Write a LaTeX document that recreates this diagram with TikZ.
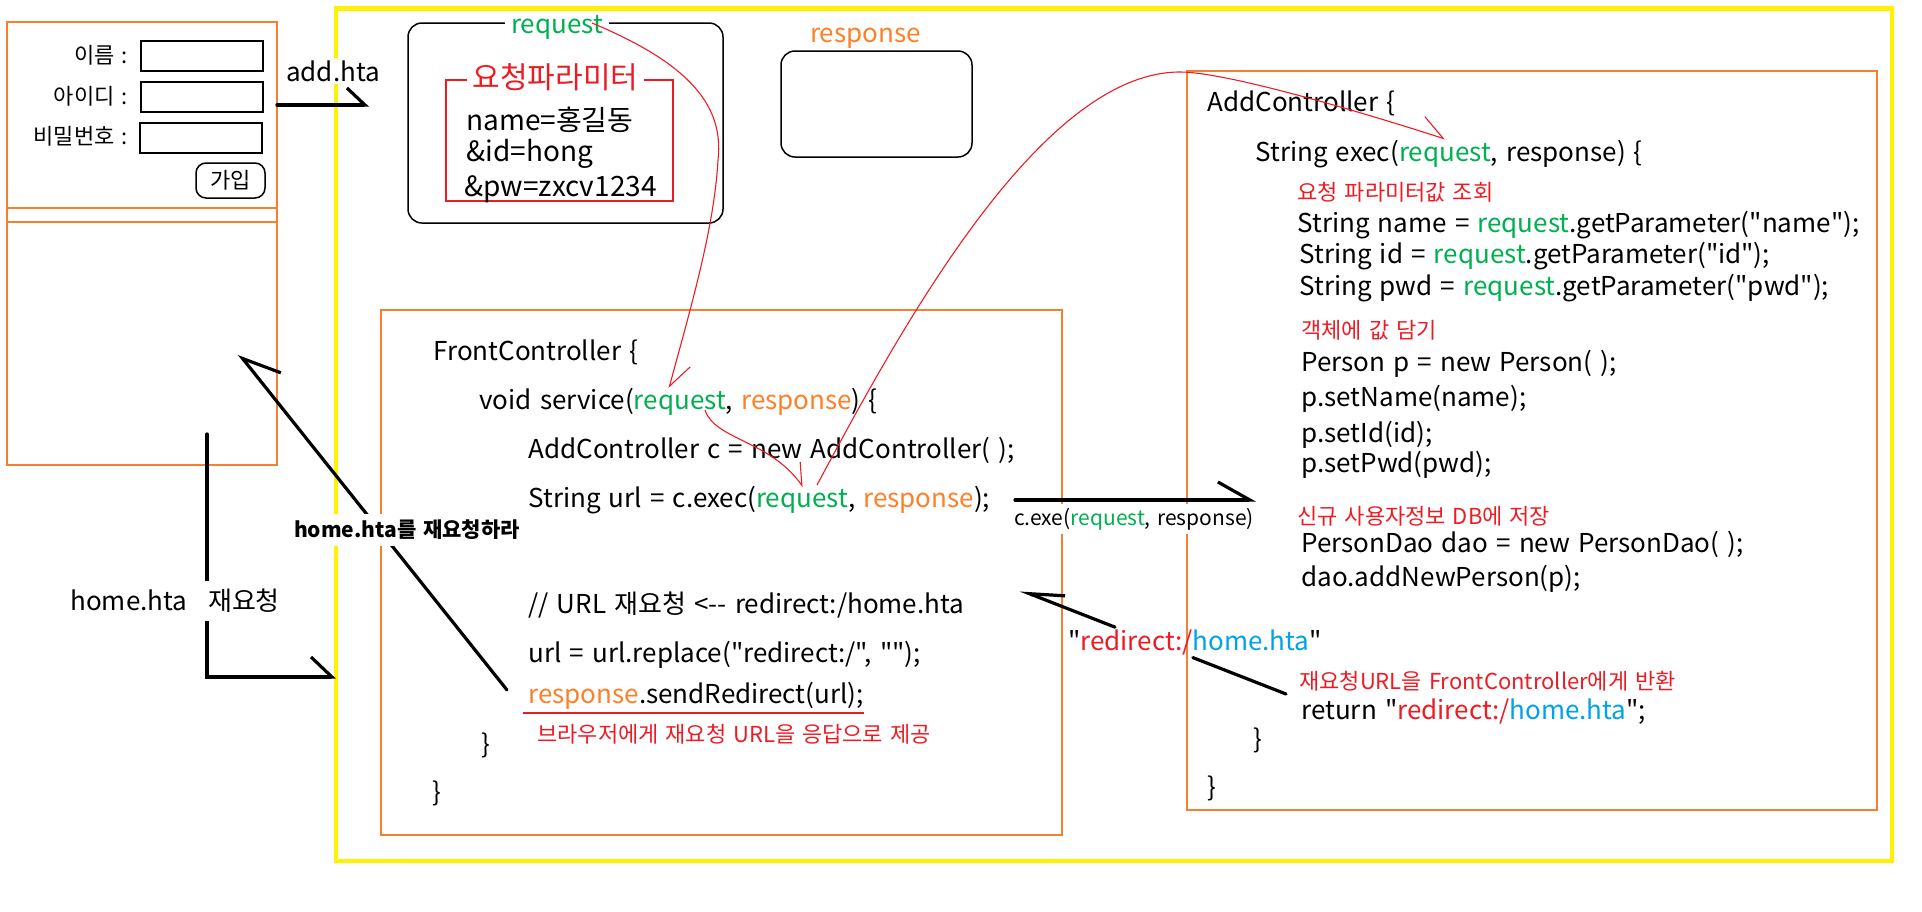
\documentclass[tikz,border=0pt]{standalone}
\usepackage{fontspec}
\newfontfamily\krfont{Noto Sans CJK KR}[WordSpace=1.4]
\usetikzlibrary{arrows.meta, positioning, calc}

\definecolor{boxorange}{RGB}{247,128,48}
\definecolor{txtorange}{RGB}{255,127,39}
\definecolor{reqgreen}{RGB}{0,176,80}
\definecolor{memored}{RGB}{237,28,36}
\definecolor{urlblue}{RGB}{0,162,232}
\definecolor{frameyellow}{RGB}{255,242,0}

\newcommand{\codefont}{\krfont\fontsize{13}{16}\selectfont}
\newcommand{\parfont}{\krfont\fontsize{14}{17}\selectfont}
\newcommand{\memofont}{\krfont\fontsize{11}{13}\selectfont}
\newcommand{\tinyfont}{\krfont\fontsize{10.5}{13}\selectfont}
\newcommand{\reqword}{\textcolor{reqgreen}{request}}
\newcommand{\respword}{\textcolor{txtorange}{response}}
\newcommand{\redir}{\textcolor{memored}{redirect:/}\textcolor{urlblue}{home.hta}}

\tikzset{
  codeline/.style={anchor=west, inner sep=0pt, font=\codefont, text height=0.75em, text depth=0.2em, yshift=-2pt},
  parline/.style={codeline, font=\parfont},
  memo/.style={anchor=west, inner sep=0pt, font=\memofont, text=memored},
  flabel/.style={anchor=east, inner sep=0pt, font=\memofont},
  obox/.style={draw=boxorange, line width=0.75pt},
  blackbox/.style={draw=black, line width=0.75pt},
  harp/.style={line width=1.6pt, line cap=round},
  redline/.style={draw=memored, line width=0.55pt},
  cover/.style={fill=white, inner xsep=3pt, inner ysep=1pt},
}

\begin{document}
\begin{tikzpicture}[x=0.5pt, y=-0.5pt]
\useasboundingbox (0,0) rectangle (1922,911);

% yellow frame
\draw[frameyellow, line width=2.4pt] (336,8.5) rectangle (1892,861);

% join form
\draw[obox] (7,22) rectangle (277,465);
\draw[obox] (7,208) -- (277,208) (7,222) -- (277,222);
\node[flabel] (lname) at (128,55)  {이름 :};
\node[flabel] (lid)   at (128,96)  {아이디 :};
\node[flabel] (lpw)   at (128,136) {비밀번호 :};
\draw[blackbox] (141,41) rectangle (263,71);
\draw[blackbox] (141,82) rectangle (263,112);
\draw[blackbox] (140,123) rectangle (262,153);
\node[draw, rounded corners=5pt, line width=0.75pt, font=\memofont,
      minimum width=34.5pt, minimum height=17.5pt] (join) at (230.5,180.5) {가입};

% request / response objects
\draw[blackbox, rounded corners=7pt] (408,23) rectangle (723,223);
\draw[draw=memored, line width=0.75pt] (446,80) rectangle (673,201);
\node[cover, text=reqgreen, font=\codefont] (reqlbl) at (557,27) {request};
\node[cover, text=memored, font=\krfont\fontsize{15}{18}\selectfont] (ptitle) at (555.5,77) {요청파라미터};
\node[parline] (p1) at (466,121) {name=홍길동};
\node[parline] (p2) at (466,152) {\&id=hong};
\node[parline] (p3) at (464,187) {\&pw=zxcv1234};
\draw[blackbox, rounded corners=7pt] (781,51) rectangle (972,157);
\node[font=\codefont, text=txtorange, inner sep=0pt] (resplbl) at (865.5,38) {response};

% FrontController
\draw[obox] (381,310) rectangle (1062,835);
\node[codeline] (f1) at (433,351) {FrontController \{};
\node[codeline] (f2) at (479,400) {void service(\reqword, \respword) \{};
\node[codeline] (f3) at (528,449) {AddController c = new AddController( );};
\node[codeline] (f4) at (528,498) {String url = c.exec(\reqword, \respword);};
\node[codeline] (f5) at (528,604) {// URL 재요청 <{-}{-} redirect:/home.hta};
\node[codeline] (f6) at (528,653) {url = url.replace("redirect:/", "");};
\node[codeline] (f7) at (528,694) {\respword.sendRedirect(url);};
\draw[draw=memored, line width=0.75pt] (523,713) -- (864,713);
\node[memo] (fm) at (537,734) {브라우저에게 재요청 URL을 응답으로 제공};
\node[codeline] (f8) at (481,744) {\}};
\node[codeline] (f9) at (432,792) {\}};

% AddController
\draw[obox] (1187,71) rectangle (1877,810);
\node[codeline] (a1)  at (1207,102) {AddController \{};
\node[codeline] (a2)  at (1255,152) {String exec(\reqword, response) \{};
\node[memo]     (am1) at (1297,192) {요청 파라미터값 조회};
\node[codeline] (a3)  at (1297,223) {String name = \reqword.getParameter("name");};
\node[codeline] (a4)  at (1299,254) {String id = \reqword.getParameter("id");};
\node[codeline] (a5)  at (1299,286) {String pwd = \reqword.getParameter("pwd");};
\node[memo]     (am2) at (1301,330) {객체에 값 담기};
\node[codeline] (a6)  at (1301,362) {Person p = new Person( );};
\node[codeline] (a7)  at (1301,397) {p.setName(name);};
\node[codeline] (a8)  at (1301,433) {p.setId(id);};
\node[codeline] (a9)  at (1301,463) {p.setPwd(pwd);};
\node[memo]     (am3) at (1297,516) {신규 사용자정보 DB에 저장};
\node[codeline] (a10) at (1301,543) {PersonDao dao = new PersonDao( );};
\node[codeline] (a11) at (1301,577) {dao.addNewPerson(p);};
\node[memo]     (am4) at (1299,681) {재요청URL을 FrontController에게 반환};
\node[codeline] (a12) at (1301,710) {return "\redir";};
\node[codeline] (a13) at (1253,739) {\}};
\node[codeline] (a14) at (1207,787) {\}};

% black arrows
\coordinate (addA) at (277,105);
\coordinate (addB) at (369,105);
\draw[harp, -{Straight Barb[left, length=9pt, width=17pt]}] (addA) -- (addB);
\node[cover, font=\codefont] (addlbl) at (333,71) {add.hta};

\coordinate (execA) at (1015,500);
\coordinate (execB) at (1256,500);
\draw[harp, -{Straight Barb[left, length=16pt, width=18pt]}] (execA) -- (execB)
  node[cover, font=\tinyfont, inner ysep=2pt] (execlbl) at (1134,519) {c.exe(\reqword, response)};

\coordinate (homeA) at (207,434);
\coordinate (homeB) at (336,677);
\draw[harp, -{Straight Barb[left, length=10.5pt, width=20pt]}] (homeA) |- (homeB);
\node[codeline] (homelbl) at (70,601) {home.hta};
\node[cover, font=\codefont, inner xsep=2pt, inner ysep=4pt] (relbl) at (244,601) {재요청};

\coordinate (backA) at (507,690);
\coordinate (backB) at (239,354);
\draw[harp, -{Straight Barb[right, length=17.5pt, width=21pt]}] (backA) -- (backB);
\node[cover, font=\tinyfont\bfseries, inner ysep=3pt] (backlbl) at (407,530) {home.hta를 재요청하라};

\coordinate (rdA) at (1286,694);
\coordinate (rdB) at (1020,590);
\draw[harp] (rdA) -- ($(rdA)!0.35!(rdB)$);
\draw[harp, -{Straight Barb[right, length=17pt, width=11pt]}] ($(rdA)!0.643!(rdB)$) -- (rdB);
\node[font=\codefont, inner sep=0pt] (rdlbl) at (1195,642) {"\redir"};

% red flow curves
\coordinate (c1a) at (592,23);
\coordinate (c1b) at (669,388);
\draw[redline, -{Straight Barb[left, length=12pt, width=15pt]}]
  (c1a) .. controls (680,60) and (725,100) .. (718,160)
        .. controls (714,230) and (690,310) .. (c1b);
\coordinate (c2a) at (705,410);
\coordinate (c2b) at (803,487);
\draw[redline, -{Straight Barb[left, length=10pt, width=12pt]}]
  (c2a) .. controls (715,440) and (770,440) .. (c2b);
\coordinate (c3a) at (817,485);
\coordinate (c3b) at (1445,139);
\draw[redline, -{Straight Barb[left, length=12pt, width=15pt]}]
  (c3a) .. controls (900,330) and (1040,72) .. (1180,72)
        .. controls (1230,72) and (1380,118) .. (c3b);
\end{tikzpicture}
\end{document}
